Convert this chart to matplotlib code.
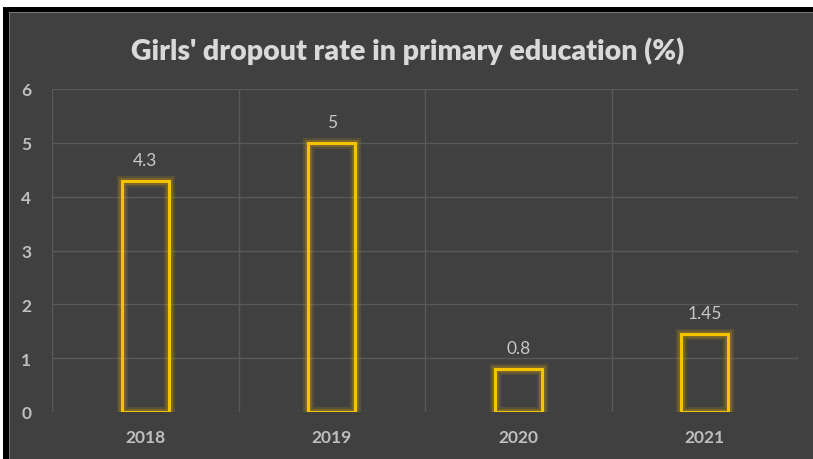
import matplotlib.pyplot as plt
from matplotlib.patches import Rectangle

years = ['2018', '2019', '2020', '2021']
rates = [4.3, 5, 0.8, 1.45]
rate_labels = ['4.3', '5', '0.8', '1.45']
y_ticks = [0, 1, 2, 3, 4, 5, 6]

W, H = 813, 460
fig = plt.figure(figsize=(W / 100, H / 100), dpi=100, facecolor='white')

# screenshot frame: black border, light edge, dark panel
fig.patches.append(Rectangle((3 / W, 0), 1, (H - 8) / H, transform=fig.transFigure,
                             facecolor='black', edgecolor='none', zorder=-3))
fig.patches.append(Rectangle((9 / W, 0), 1, (H - 13) / H, transform=fig.transFigure,
                             facecolor='#7a7a7a', edgecolor='none', zorder=-2))
fig.patches.append(Rectangle((10 / W, 0), 1, (H - 14) / H, transform=fig.transFigure,
                             facecolor='#404040', edgecolor='none', zorder=-1))

ax = fig.add_axes([52 / W, 47 / H, 746 / W, 323 / H])
ax.set_facecolor('none')

x = list(range(len(years)))
# soft glow behind the outline
ax.bar(x, rates, width=0.25, facecolor='none', edgecolor='#ffc000', linewidth=8, alpha=0.12, zorder=2)
ax.bar(x, rates, width=0.25, facecolor='none', edgecolor='#ffc000', linewidth=5, alpha=0.2, zorder=2)
ax.bar(x, rates, width=0.25, facecolor='none', edgecolor='#f5c400', linewidth=2.2, zorder=3)

for xi, v, lab in zip(x, rates, rate_labels):
    ax.annotate(lab, (xi, v), xytext=(0, 9), textcoords='offset points',
                ha='center', va='bottom', color='#c8c8c8', fontsize=12.5, family='Lato')

ax.set_xlim(-0.5, 3.5)
ax.set_ylim(0, 6)
ax.set_yticks(y_ticks)
ax.set_xticks(x)
ax.set_xticklabels(years)
ax.set_xticks([i - 0.5 for i in range(len(years) + 1)], minor=True)
ax.tick_params(axis='both', which='both', length=0, colors='#bfbfbf', labelsize=12.5)
ax.tick_params(axis='y', pad=15)
ax.tick_params(axis='x', pad=12)
for t in ax.get_xticklabels() + ax.get_yticklabels():
    t.set_family('Lato')
    t.set_fontweight('bold')

ax.grid(axis='y', which='major', color='#595959', linewidth=1)
ax.grid(axis='x', which='minor', color='#595959', linewidth=1)
ax.set_axisbelow(True)
for s in ax.spines.values():
    s.set_visible(False)

fig.text(408 / W, 1 - 51 / H, "Girls' dropout rate in primary education (%)",
         ha='center', va='center', color='#d9d9d9', fontsize=20.5, fontweight='heavy', family='Lato')

fig.savefig('out.png', dpi=100, facecolor='white')
